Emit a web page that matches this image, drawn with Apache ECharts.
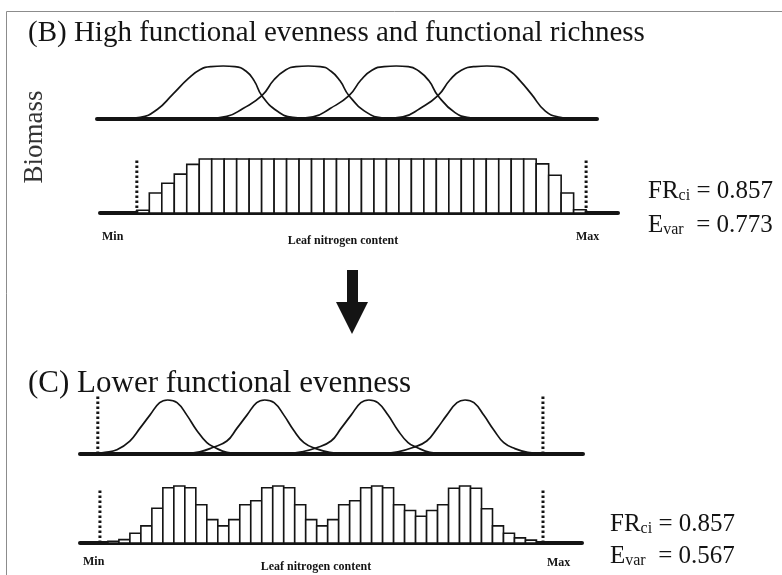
<!DOCTYPE html>
<html>
<head>
<meta charset="utf-8">
<script src="https://cdn.jsdelivr.net/npm/echarts@6/dist/echarts.min.js"></script>
<style>
  html, body { margin: 0; padding: 0; background: #fff; }
  #chart { width: 782px; height: 575px; }
</style>
</head>
<body>
<div id="chart"></div>
<script>
// trait axis in both panels: Min = 0, Max = 100; heights are relative biomass (peak = 1)

// (B) four broad, flat-topped species curves
const curveB1 = [[-3.8,0],[0.7,0.03],[4.5,0.18],[8.0,0.47],[11.4,0.76],[14.0,0.93],[16.5,0.99],[19.2,1],[21.8,0.99],[24.3,0.9],[26.1,0.72],[27.8,0.44],[31.2,0.15],[34.7,0.03],[40.1,0]];
const curveB2 = [[14.7,0],[20.0,0.05],[23.6,0.2],[27.8,0.44],[30.5,0.74],[33.0,0.92],[35.4,0.99],[38.1,1],[40.8,0.99],[43.2,0.9],[45.2,0.72],[47.2,0.44],[51.2,0.12],[54.8,0.02],[59.2,0]];
const curveB3 = [[34.1,0],[39.2,0.04],[43.0,0.2],[47.2,0.44],[49.9,0.74],[52.3,0.92],[55.0,0.99],[57.7,1],[60.4,0.99],[62.8,0.9],[65.0,0.72],[67.0,0.44],[70.8,0.12],[74.2,0.02],[77.1,0]];
const curveB4 = [[54.1,0],[59.2,0.04],[63.0,0.2],[67.0,0.44],[69.7,0.74],[72.2,0.92],[75.3,0.99],[77.9,1],[80.6,0.99],[83.1,0.9],[85.3,0.72],[87.8,0.47],[90.9,0.15],[94.2,0.03],[97.1,0]];

// (B) summed biomass per trait class (36 classes between Min and Max)
const histB = [0.05,0.37,0.55,0.72,0.90,
  1,1,1,1,1,1,1,1,1,1,1,1,1,1,1,1,1,1,1,1,1,1,1,1,1,1,1,
  0.91,0.70,0.37,0.06];

// (C) four narrow species curves
const curveC1 = [[-1.3,0],[1.6,0.03],[4.3,0.08],[7.2,0.24],[9.4,0.47],[11.7,0.72],[13.9,0.95],[15.7,1],[17.8,0.95],[20.0,0.72],[22.2,0.44],[24.5,0.21],[26.3,0.12],[29.0,0.03],[33.0,0]];
const curveC2 = [[19.1,0],[22.9,0.04],[25.8,0.12],[29.0,0.24],[31.2,0.47],[33.5,0.72],[35.7,0.95],[37.5,1],[39.6,0.95],[41.8,0.72],[44.0,0.44],[46.3,0.21],[49.0,0.1],[52.1,0.03],[55.5,0]];
const curveC3 = [[42.0,0],[45.8,0.04],[49.0,0.11],[52.4,0.24],[54.6,0.47],[56.9,0.72],[59.1,0.95],[60.9,1],[62.9,0.95],[65.2,0.72],[67.4,0.44],[69.7,0.21],[71.7,0.12],[74.6,0.03],[78.7,0]];
const curveC4 = [[63.4,0],[67.4,0.04],[70.8,0.12],[73.9,0.24],[76.2,0.47],[78.4,0.72],[80.7,0.95],[82.5,1],[84.5,0.95],[86.7,0.72],[89.0,0.44],[91.2,0.21],[93.7,0.1],[96.6,0.03],[100.4,0]];

// (C) summed biomass per trait class (40 classes)
const histC = [0.03,0.06,0.17,0.30,0.61,0.97,1.0,0.97,0.67,0.41,
  0.30,0.41,0.67,0.74,0.97,1.0,0.97,0.67,0.41,0.30,
  0.41,0.67,0.74,0.97,1.0,0.97,0.67,0.57,0.47,0.57,
  0.67,0.96,1.0,0.96,0.60,0.30,0.17,0.09,0.05,0.02];

const traitLimits = [0, 100];
const titleB = '(B) High functional evenness and functional richness';
const titleC = '(C) Lower functional evenness';
const yTitle = 'Biomass';
const xTitle = 'Leaf nitrogen content';
const limitLabels = ['Min', 'Max'];
const statsB = { fr: '0.857', evar: '0.773' };
const statsC = { fr: '0.857', evar: '0.567' };

const INK = '#141414';
const SERIF = '"Liberation Serif", "DejaVu Serif", serif';

const chart = echarts.init(document.getElementById('chart'));

// one grid per strip: B curves, B histogram, C curves, C histogram
const grids = [
  { left: 97, width: 500, top: 66, height: 53 },
  { left: 100, width: 518, top: 159, height: 54 },
  { left: 80, width: 503, top: 400, height: 54 },
  { left: 80, width: 502, top: 486, height: 57 }
];
const xRanges = [[-8.9, 102.4], [-8.2, 107.1], [-4.0, 109.0], [-4.5, 108.8]];

function histRender(start, width) {
  return function (params, api) {
    const i = api.value(0);
    const h = api.value(1);
    const p0 = api.coord([start + i * width, 0]);
    const p1 = api.coord([start + (i + 1) * width, h]);
    return {
      type: 'rect',
      shape: { x: p0[0], y: p1[1], width: p1[0] - p0[0], height: p0[1] - p1[1] },
      style: { fill: '#fff', stroke: INK, lineWidth: 1.6 }
    };
  };
}

function curve(data, idx, smooth) {
  return {
    type: 'line', xAxisIndex: idx, yAxisIndex: idx, data: data,
    smooth: smooth, showSymbol: false, symbol: 'none', clip: false,
    lineStyle: { color: INK, width: 1.7 }, z: 3
  };
}

function limitLine(x, top, idx) {
  return {
    type: 'line', xAxisIndex: idx, yAxisIndex: idx, data: [[x, 0], [x, top]],
    showSymbol: false, symbol: 'none', clip: false,
    lineStyle: { color: INK, width: 3, type: [2.5, 2.5] }, z: 4
  };
}

function label(text, x, y, opts) {
  return {
    type: 'text', x: x, y: y,
    style: Object.assign({ text: text, fill: INK, font: 'bold 12px ' + SERIF,
      align: 'left', verticalAlign: 'middle' }, opts || {})
  };
}

function stats(sym, sub, pad, value, x, y) {
  return {
    type: 'text', x: x, y: y,
    style: {
      text: '{m|' + sym + '}{s|' + sub + '}{m|' + pad + '= ' + value + '}',
      align: 'left', verticalAlign: 'middle',
      rich: {
        m: { fontFamily: SERIF, fontSize: 25, lineHeight: 25, fill: INK, verticalAlign: 'bottom' },
        s: { fontFamily: SERIF, fontSize: 16, lineHeight: 11, fill: INK, verticalAlign: 'bottom' }
      }
    }
  };
}

const option = {
  backgroundColor: '#fff',
  animation: false,
  grid: grids,
  xAxis: grids.map((g, i) => ({
    type: 'value', gridIndex: i, min: xRanges[i][0], max: xRanges[i][1],
    axisLine: { show: true, onZero: true, lineStyle: { color: INK, width: 4 } },
    axisTick: { show: false }, axisLabel: { show: false }, splitLine: { show: false }
  })),
  yAxis: grids.map((g, i) => ({
    type: 'value', gridIndex: i, min: 0, max: 1, show: false
  })),
  series: [
    curve(curveB1, 0, 0.5), curve(curveB2, 0, 0.5), curve(curveB3, 0, 0.5), curve(curveB4, 0, 0.5),
    {
      type: 'custom', xAxisIndex: 1, yAxisIndex: 1, clip: false,
      renderItem: histRender(traitLimits[0], (traitLimits[1] - traitLimits[0]) / histB.length),
      data: histB.map((v, i) => [i, v]), encode: { x: 0, y: 1 }, z: 2
    },
    limitLine(traitLimits[0], 1.02, 1), limitLine(traitLimits[1], 1.02, 1),
    curve(curveC1, 2, 0.45), curve(curveC2, 2, 0.45), curve(curveC3, 2, 0.45), curve(curveC4, 2, 0.45),
    limitLine(traitLimits[0], 1.1, 2), limitLine(traitLimits[1], 1.1, 2),
    {
      type: 'custom', xAxisIndex: 3, yAxisIndex: 3, clip: false,
      renderItem: histRender(1.8, 2.48),
      data: histC.map((v, i) => [i, v]), encode: { x: 0, y: 1 }, z: 2
    },
    limitLine(traitLimits[0], 0.93, 3), limitLine(traitLimits[1], 0.93, 3)
  ],
  graphic: [
    { type: 'rect', shape: { x: 6.5, y: 11.5, width: 820, height: 620 },
      style: { fill: 'none', stroke: '#8c8c8c', lineWidth: 1 }, silent: true },
    label(titleB, 28, 33, { font: '29px ' + SERIF }),
    label(titleC, 28, 384, { font: '31px ' + SERIF }),
    {
      type: 'text', x: 35, y: 137, rotation: Math.PI / 2,
      style: { text: yTitle, fill: '#333', font: '27px ' + SERIF, align: 'center', verticalAlign: 'middle' }
    },
    label(limitLabels[0], 102, 237),
    label(xTitle, 343, 241, { align: 'center' }),
    label(limitLabels[1], 576, 237),
    label(limitLabels[0], 83, 562),
    label(xTitle, 316, 567, { align: 'center' }),
    label(limitLabels[1], 547, 563),
    stats('FR', 'ci', ' ', statsB.fr, 648, 191),
    stats('E', 'var', '  ', statsB.evar, 648, 225),
    stats('FR', 'ci', ' ', statsC.fr, 610, 524),
    stats('E', 'var', '  ', statsC.evar, 610, 556),
    { type: 'polygon', shape: { points: [[347, 270], [358, 270], [358, 302], [368, 302], [352, 334], [336, 302], [347, 302]] },
      style: { fill: INK } }
  ]
};

chart.setOption(option);
</script>
</body>
</html>
